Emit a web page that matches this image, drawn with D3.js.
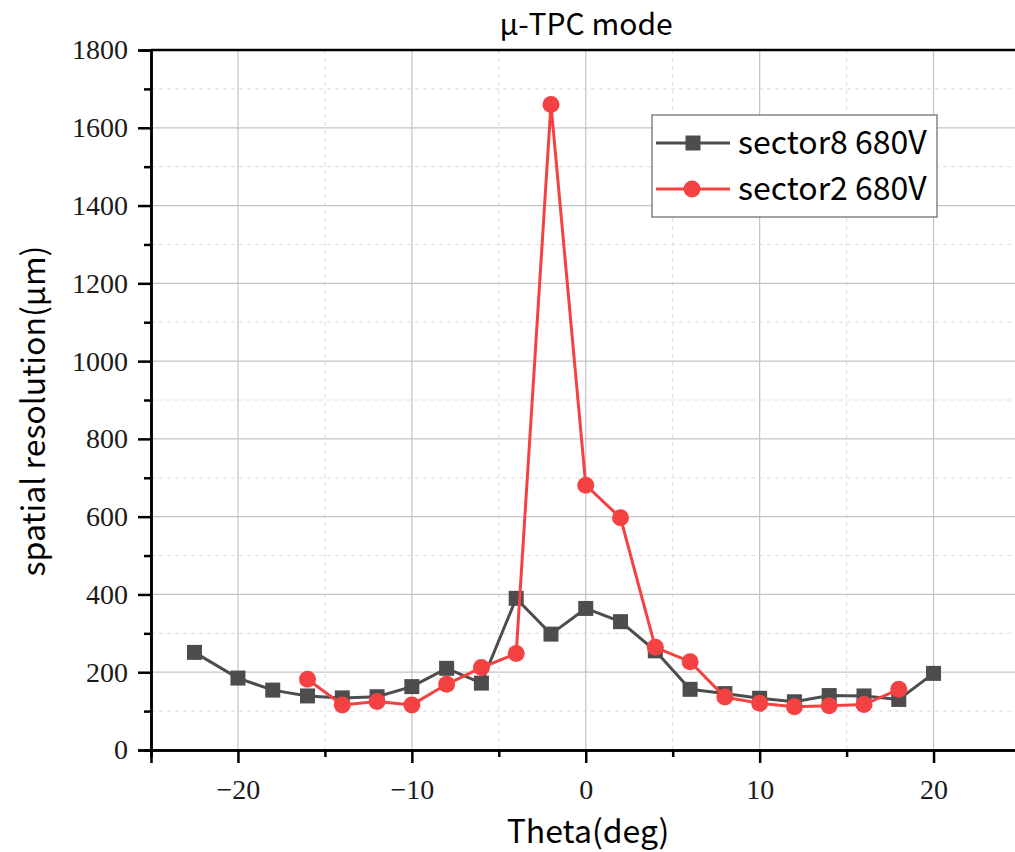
<!DOCTYPE html>
<html>
<head>
<meta charset="utf-8">
<script src="https://cdn.jsdelivr.net/npm/d3@7"></script>
<style>
  body { margin: 0; background: #fff; }
  svg { display: block; }
</style>
</head>
<body>
<svg id="chart" width="1015" height="852"></svg>
<script>
// ---- data ----
const sector8Theta = [-22.5, -20, -18, -16, -14, -12, -10, -8, -6, -4, -2, 0, 2, 4, 6, 8, 10, 12, 14, 16, 18, 20];
const sector8Res   = [251, 185, 154, 139, 134, 137, 163, 210, 172, 390, 298, 364, 330, 255, 156, 145, 133, 124, 140, 139, 130, 197];
const sector2Theta = [-16, -14, -12, -10, -8, -6, -4, -2, 0, 2, 4, 6, 8, 10, 12, 14, 16, 18];
const sector2Res   = [182, 116, 125, 116, 169, 212, 248, 1660, 681, 597, 264, 227, 136, 120, 111, 114, 117, 156];
const xMajorTicks = [-20, -10, 0, 10, 20];
const xMinorTicks = [-25, -15, -5, 5, 15, 25];
const yMajorTicks = [0, 200, 400, 600, 800, 1000, 1200, 1400, 1600, 1800];
const yMinorTicks = [100, 300, 500, 700, 900, 1100, 1300, 1500, 1700];
const seriesNames = ["sector8 680V", "sector2 680V"];

(function () {
// ---- layout ----
const svg = d3.select("#chart");
const pL = 151, pR = 1020.5, pT = 50, pB = 750;
const x = d3.scaleLinear().domain([-25, 25]).range([pL, pR]);
const y = d3.scaleLinear().domain([0, 1800]).range([pB, pT]);

const gray = "#4d4d4d", red = "#f44242";
const serif = "'Liberation Serif', 'Times New Roman', serif";
const sans = "'Noto Sans CJK SC', 'Noto Sans', sans-serif";

// grid
const grid = svg.append("g");
grid.selectAll(".gxm").data(xMinorTicks).join("line")
  .attr("x1", d => x(d)).attr("x2", d => x(d)).attr("y1", pT).attr("y2", pB)
  .attr("stroke", "#dcdcdc").attr("stroke-width", 1).attr("stroke-dasharray", "4,4");
grid.selectAll(".gym").data(yMinorTicks).join("line")
  .attr("y1", d => y(d)).attr("y2", d => y(d)).attr("x1", pL).attr("x2", pR)
  .attr("stroke", "#dcdcdc").attr("stroke-width", 1).attr("stroke-dasharray", "4,4");
grid.selectAll(".gx").data(xMajorTicks).join("line")
  .attr("x1", d => x(d)).attr("x2", d => x(d)).attr("y1", pT).attr("y2", pB)
  .attr("stroke", "#c4c4c4").attr("stroke-width", 1.2);
grid.selectAll(".gy").data(yMajorTicks.slice(1, -1)).join("line")
  .attr("y1", d => y(d)).attr("y2", d => y(d)).attr("x1", pL).attr("x2", pR)
  .attr("stroke", "#c4c4c4").attr("stroke-width", 1.2);

// axes
const fmt = d => d < 0 ? "\u2212" + Math.abs(d) : String(d);
const xAxis = svg.append("g").attr("transform", `translate(0,${pB})`)
  .call(d3.axisBottom(x).tickValues(xMajorTicks).tickFormat(fmt).tickSize(13).tickPadding(16));
const xAxisMinor = svg.append("g").attr("transform", `translate(0,${pB})`)
  .call(d3.axisBottom(x).tickValues(xMinorTicks).tickFormat("").tickSize(7));
const yAxis = svg.append("g").attr("transform", `translate(${pL},0)`)
  .call(d3.axisLeft(y).tickValues(yMajorTicks).tickFormat(fmt).tickSize(13).tickPadding(10));
const yAxisMinor = svg.append("g").attr("transform", `translate(${pL},0)`)
  .call(d3.axisLeft(y).tickValues(yMinorTicks).tickFormat("").tickSize(7));
[xAxis, xAxisMinor, yAxis, yAxisMinor].forEach(g => {
  g.select(".domain").attr("stroke", "#000").attr("stroke-width", 2.5);
  g.selectAll(".tick line").attr("stroke", "#000").attr("stroke-width", 2.5);
  g.selectAll(".tick text").attr("font-family", serif).attr("font-size", 28).attr("fill", "#1a1a1a");
});
xAxis.selectAll(".tick text").attr("dy", "0.71em");
// top frame line
svg.append("line").attr("x1", pL).attr("x2", pR).attr("y1", pT).attr("y2", pT)
  .attr("stroke", "#000").attr("stroke-width", 2.5);

// series
const line = d3.line().x(d => x(d[0])).y(d => y(d[1]));
const s8 = sector8Theta.map((t, i) => [t, sector8Res[i]]);
const s2 = sector2Theta.map((t, i) => [t, sector2Res[i]]);

svg.append("path").datum(s8).attr("d", line).attr("fill", "none")
  .attr("stroke", gray).attr("stroke-width", 3);
svg.selectAll(".sq").data(s8).join("rect")
  .attr("x", d => x(d[0]) - 7.5).attr("y", d => y(d[1]) - 7.5)
  .attr("width", 15).attr("height", 15).attr("fill", gray);

svg.append("path").datum(s2).attr("d", line).attr("fill", "none")
  .attr("stroke", red).attr("stroke-width", 3);
svg.selectAll(".ci").data(s2).join("circle")
  .attr("cx", d => x(d[0])).attr("cy", d => y(d[1])).attr("r", 8.5).attr("fill", red);

// legend
const lg = svg.append("g");
lg.append("rect").attr("x", 652).attr("y", 115).attr("width", 285).attr("height", 102)
  .attr("fill", "#fff").attr("stroke", "#666").attr("stroke-width", 1.2);
const rows = [{name: seriesNames[0], color: gray, shape: "sq", cy: 143},
              {name: seriesNames[1], color: red, shape: "ci", cy: 189}];
rows.forEach(r => {
  lg.append("line").attr("x1", 656).attr("x2", 730).attr("y1", r.cy).attr("y2", r.cy)
    .attr("stroke", r.color).attr("stroke-width", 3);
  if (r.shape === "sq") {
    lg.append("rect").attr("x", 693 - 7.5).attr("y", r.cy - 7.5).attr("width", 15).attr("height", 15).attr("fill", r.color);
  } else {
    lg.append("circle").attr("cx", 692).attr("cy", r.cy).attr("r", 8.5).attr("fill", r.color);
  }
  lg.append("text").attr("x", 738).attr("y", r.cy).attr("dy", "0.35em")
    .attr("font-family", sans).attr("font-size", 32).attr("fill", "#000").text(r.name);
});

// titles
svg.append("text").attr("x", 586).attr("y", 35).attr("text-anchor", "middle")
  .attr("font-family", sans).attr("font-size", 30).attr("fill", "#000").text("\u03bc-TPC mode");
svg.append("text").attr("x", 588).attr("y", 843).attr("text-anchor", "middle")
  .attr("font-family", sans).attr("font-size", 32).attr("fill", "#000").text("Theta(deg)");
svg.append("text").attr("transform", "translate(45,411) rotate(-90)").attr("text-anchor", "middle")
  .attr("font-family", sans).attr("font-size", 32).attr("fill", "#000").text("spatial resolution(\u03bcm)");
})();
</script>
</body>
</html>
